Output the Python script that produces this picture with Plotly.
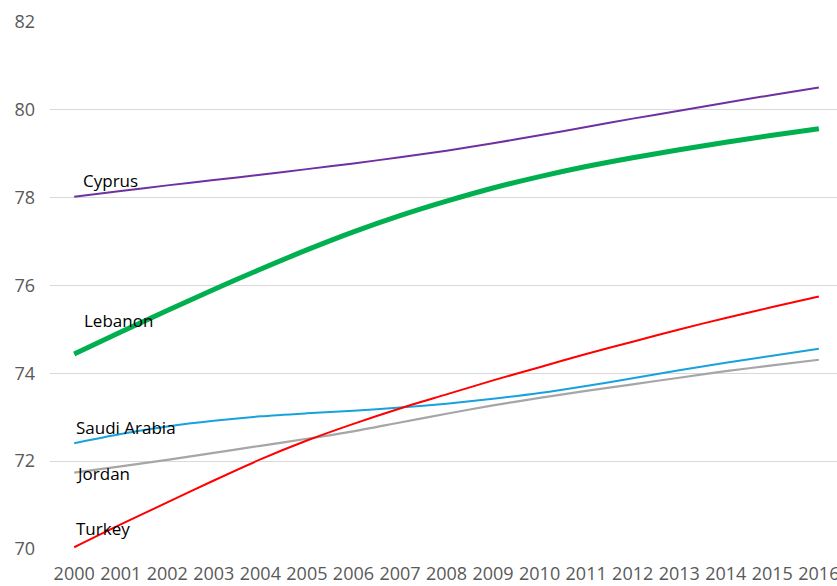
import plotly.graph_objects as go

years = list(range(2000, 2017))

cyprus = [78.02, 78.15, 78.28, 78.40, 78.52, 78.65, 78.78, 78.92, 79.07,
          79.24, 79.42, 79.61, 79.80, 79.98, 80.16, 80.34, 80.51]
lebanon = [74.44, 74.94, 75.43, 75.91, 76.37, 76.81, 77.22, 77.59, 77.92,
           78.22, 78.48, 78.71, 78.91, 79.09, 79.26, 79.42, 79.57]
turkey = [70.04, 70.56, 71.06, 71.56, 72.04, 72.47, 72.85, 73.20, 73.52,
          73.84, 74.14, 74.44, 74.72, 75.00, 75.26, 75.51, 75.75]
saudi_arabia = [72.41, 72.62, 72.79, 72.92, 73.02, 73.09, 73.15, 73.22, 73.31,
                73.42, 73.55, 73.71, 73.89, 74.07, 74.24, 74.40, 74.56]
jordan = [71.74, 71.88, 72.03, 72.19, 72.35, 72.51, 72.68, 72.88, 73.08,
          73.27, 73.44, 73.60, 73.75, 73.90, 74.05, 74.18, 74.31]

y_ticks = [70, 72, 74, 76, 78, 80, 82]

# series: (name, values, colour, width, label y position)
series = [
    ("Cyprus", cyprus, "#7030A0", 2, 78.39),
    ("Lebanon", lebanon, "#00B050", 5, 75.20),
    ("Saudi Arabia", saudi_arabia, "#17A2DC", 2, 72.76),
    ("Jordan", jordan, "#A6A6A6", 2.2, 71.72),
    ("Turkey", turkey, "#FF0000", 2, 70.46),
]

font_family = "Open Sans, Noto Sans, sans-serif"

fig = go.Figure()
for name, vals, color, width, _ in series:
    fig.add_trace(go.Scatter(
        x=years, y=vals, mode="lines", name=name,
        line=dict(color=color, width=width, shape="spline", smoothing=0.8),
        hoverinfo="x+y+name",
    ))

label_shift = {"Cyprus": 7, "Lebanon": 8}
for name, _, _, _, ly in series:
    fig.add_annotation(
        x=2000, y=ly, text=name, showarrow=False,
        xanchor="left", yanchor="middle",
        xshift=label_shift.get(name, 0),
        font=dict(family=font_family, size=17, color="#000000"),
    )

fig.update_layout(
    width=837, height=586,
    margin=dict(l=50, r=0, t=22, b=37),
    paper_bgcolor="white", plot_bgcolor="white",
    showlegend=False,
    font=dict(family=font_family, color="#595959"),
    xaxis=dict(
        range=[1999.48, 2016.39],
        tickmode="array", tickvals=years, ticktext=[str(y) for y in years],
        showgrid=False, zeroline=False, showline=False,
        tickfont=dict(size=18, color="#595959"),
        ticklabelstandoff=12,
        ticklabeloverflow="allow",
        automargin=False,
    ),
    yaxis=dict(
        range=[70, 82],
        tickmode="array", tickvals=y_ticks,
        showgrid=True, gridcolor="#D9D9D9", gridwidth=1,
        zeroline=False, showline=False,
        tickfont=dict(size=18, color="#595959"),
        ticklabelstandoff=14,
        automargin=False,
    ),
)

fig.write_html("out.html")
